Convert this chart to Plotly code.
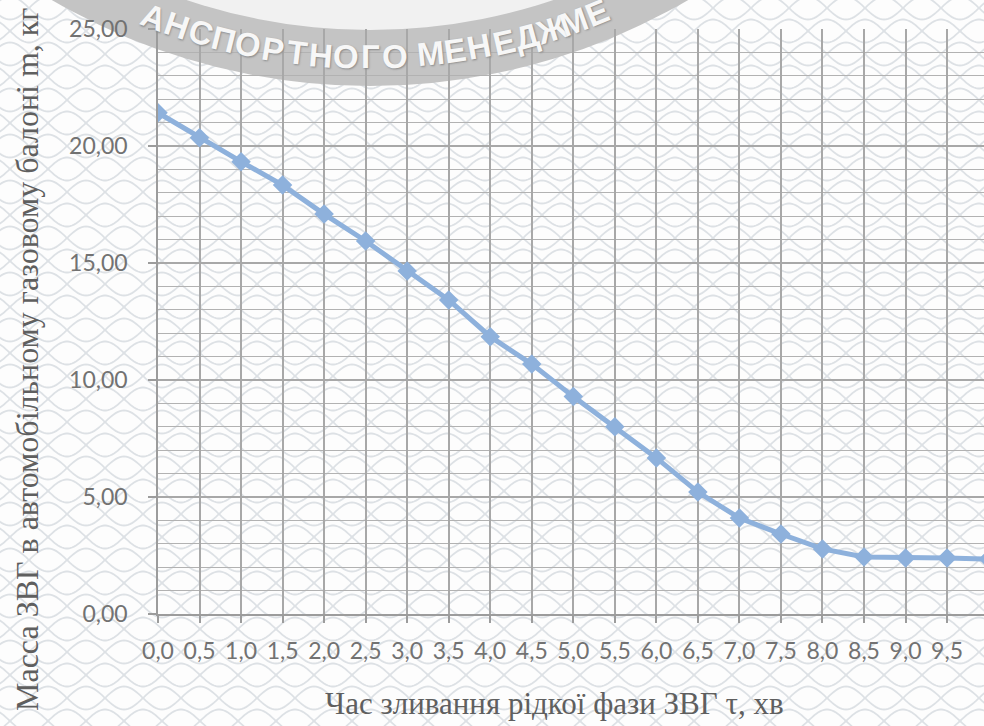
import base64
import math
import plotly.graph_objects as go

# Discharge time of the liquid LPG phase, min
time_min = [0.0, 0.5, 1.0, 1.5, 2.0, 2.5, 3.0, 3.5, 4.0, 4.5, 5.0,
            5.5, 6.0, 6.5, 7.0, 7.5, 8.0, 8.5, 9.0, 9.5, 10.0]
# LPG mass remaining in the vehicle gas cylinder, kg
mass_kg = [21.42, 20.35, 19.33, 18.33, 17.09, 15.94, 14.66, 13.42, 11.85, 10.68, 9.29,
           8.00, 6.67, 5.21, 4.10, 3.42, 2.78, 2.44, 2.39, 2.39, 2.35]

x_tick_vals = [0.0, 0.5, 1.0, 1.5, 2.0, 2.5, 3.0, 3.5, 4.0, 4.5,
               5.0, 5.5, 6.0, 6.5, 7.0, 7.5, 8.0, 8.5, 9.0, 9.5]
x_tick_labels = ["0,0", "0,5", "1,0", "1,5", "2,0", "2,5", "3,0", "3,5", "4,0", "4,5",
                 "5,0", "5,5", "6,0", "6,5", "7,0", "7,5", "8,0", "8,5", "9,0", "9,5"]
y_tick_vals = [0, 5, 10, 15, 20, 25]
y_tick_labels = ["0,00", "5,00", "10,00", "15,00", "20,00", "25,00"]

x_title = "Час зливання рідкої фази ЗВГ τ, хв"
y_title = "Масса ЗВГ в автомобільному газовому балоні m, кг"
stamp_text = "ТРАНСПОРТНОГО МЕНЕДЖМЕНТУ"

W, H = 984, 726
ML, MR, MT, MB = 158, 0, 29, 112
PW, PH = W - ML - MR, H - MT - MB
STEP_PX = 41.53  # pixels between neighbouring half-minute categories


def px(x, y):
    """Pixel position on the page -> paper coordinates."""
    return (x - ML) / PW, (H - MB - y) / PH


# ---- background guilloche pattern as an inline SVG ----
TW, TH, AMP = 76, 46, 11.5
def wave(y0, sign, phase):
    pts = []
    for i in range(0, 39):
        x = TW * i / 38
        y = y0 + sign * AMP * math.sin(2 * math.pi * x / TW + phase)
        pts.append(f"{x:.1f},{y:.1f}")
    return f'<polyline points="{" ".join(pts)}"/>'

tile = []
for s in (1, -1):
    tile.append(wave(TH / 2, s, 0.0))
    for y0 in (0, TH):
        tile.append(wave(y0, s, math.pi / 2))
svg = (
    f'<svg xmlns="http://www.w3.org/2000/svg" width="{W}" height="{H}">'
    f'<defs><pattern id="g" width="{TW}" height="{TH}" patternUnits="userSpaceOnUse" x="10" y="8">'
    f'<g fill="none" stroke="#dde1e5" stroke-width="1.8">{"".join(tile)}</g>'
    f'</pattern></defs>'
    f'<rect width="{W}" height="{H}" fill="#fdfdfd"/>'
    f'<rect width="{W}" height="{H}" fill="url(#g)"/></svg>'
)
bg_uri = "data:image/svg+xml;base64," + base64.b64encode(svg.encode("utf-8")).decode()

fig = go.Figure()

fig.add_trace(go.Scatter(
    x=time_min, y=mass_kg,
    mode="lines+markers",
    line=dict(color="#8eb1dc", width=5),
    marker=dict(symbol="diamond", size=15, color="#8eb1dc"),
    hoverinfo="x+y",
    showlegend=False,
))

# ---- stamp ring at the top ----
CX, CY, R_OUT, R_IN = 370, -546, 632, 576
shapes = []
for r, col in ((R_OUT, "#c4c4c4"), (R_IN, "#f1f1f1")):
    x0, y0 = px(CX - r, CY + r)
    x1, y1 = px(CX + r, CY - r)
    shapes.append(dict(type="circle", xref="paper", yref="paper",
                       x0=x0, y0=y0, x1=x1, y1=y1,
                       fillcolor=col, line=dict(width=0), layer="below"))

annotations = []
R_MID = (R_OUT + R_IN) / 2 - 1
first_x, letter_gap = 100, 24.6
arc = first_x - CX
for ch in stamp_text:
    if ch == " ":
        arc += letter_gap * 0.45
        continue
    theta = arc / R_MID
    lx = CX + R_MID * math.sin(theta)
    ly = CY + R_MID * math.cos(theta)
    arc += letter_gap
    if ly < 12:
        continue  # beyond the top of the page
    ax, ay = px(lx, ly)
    annotations.append(dict(
        text=ch, x=ax, y=ay, xref="paper", yref="paper",
        xanchor="center", yanchor="middle", showarrow=False,
        textangle=-math.degrees(theta),
        font=dict(family="Liberation Sans", size=33, color="#f7f7f7",
                  weight="bold", shadow="1px 1px 2px #8a8a8a"),
    ))

# ---- axis titles ----
tx, ty = px(554, 703)
annotations.append(dict(text=x_title, x=tx, y=ty, xref="paper", yref="paper",
                        xanchor="center", yanchor="middle", showarrow=False,
                        font=dict(family="Liberation Serif", size=31, color="#5f5f5f")))
yx, yy = px(27, 360)
annotations.append(dict(text=y_title, x=yx, y=yy, xref="paper", yref="paper",
                        xanchor="center", yanchor="middle", showarrow=False, textangle=-90,
                        font=dict(family="Liberation Serif", size=32, color="#5f5f5f")))

bx0, by0 = px(0, 0)
fig.update_layout(
    width=W, height=H,
    margin=dict(l=ML, r=MR, t=MT, b=MB, pad=0),
    paper_bgcolor="white",
    plot_bgcolor="rgba(0,0,0,0)",
    images=[dict(source=bg_uri, xref="paper", yref="paper", x=bx0, y=by0,
                 sizex=W / PW, sizey=H / PH, xanchor="left", yanchor="top",
                 sizing="stretch", layer="below")],
    shapes=shapes,
    annotations=annotations,
    xaxis=dict(
        range=[0, 0.5 * PW / STEP_PX],
        tickvals=x_tick_vals, ticktext=x_tick_labels,
        showgrid=True, gridcolor="#a8a8a8", gridwidth=1.5,
        showline=True, linecolor="#9c9c9c", linewidth=1.5,
        ticks="outside", ticklen=7, tickcolor="#9c9c9c", tickwidth=1.5,
        ticklabelstandoff=9,
        tickfont=dict(family="Lato", size=23, color="#727272"),
        zeroline=False, fixedrange=True,
    ),
    yaxis=dict(
        range=[0, 25],
        tickvals=y_tick_vals, ticktext=y_tick_labels,
        showgrid=True, gridcolor="#a8a8a8", gridwidth=1.5,
        minor=dict(dtick=1, showgrid=True, gridcolor="#b2b2b2", gridwidth=1.4, ticks=""),
        showline=True, linecolor="#9c9c9c", linewidth=1.5,
        ticks="outside", ticklen=8, tickcolor="#9c9c9c", tickwidth=1.5,
        ticklabelstandoff=16,
        tickfont=dict(family="Lato", size=23, color="#727272"),
        zeroline=False, fixedrange=True,
    ),
)

fig.write_html("out.html")
